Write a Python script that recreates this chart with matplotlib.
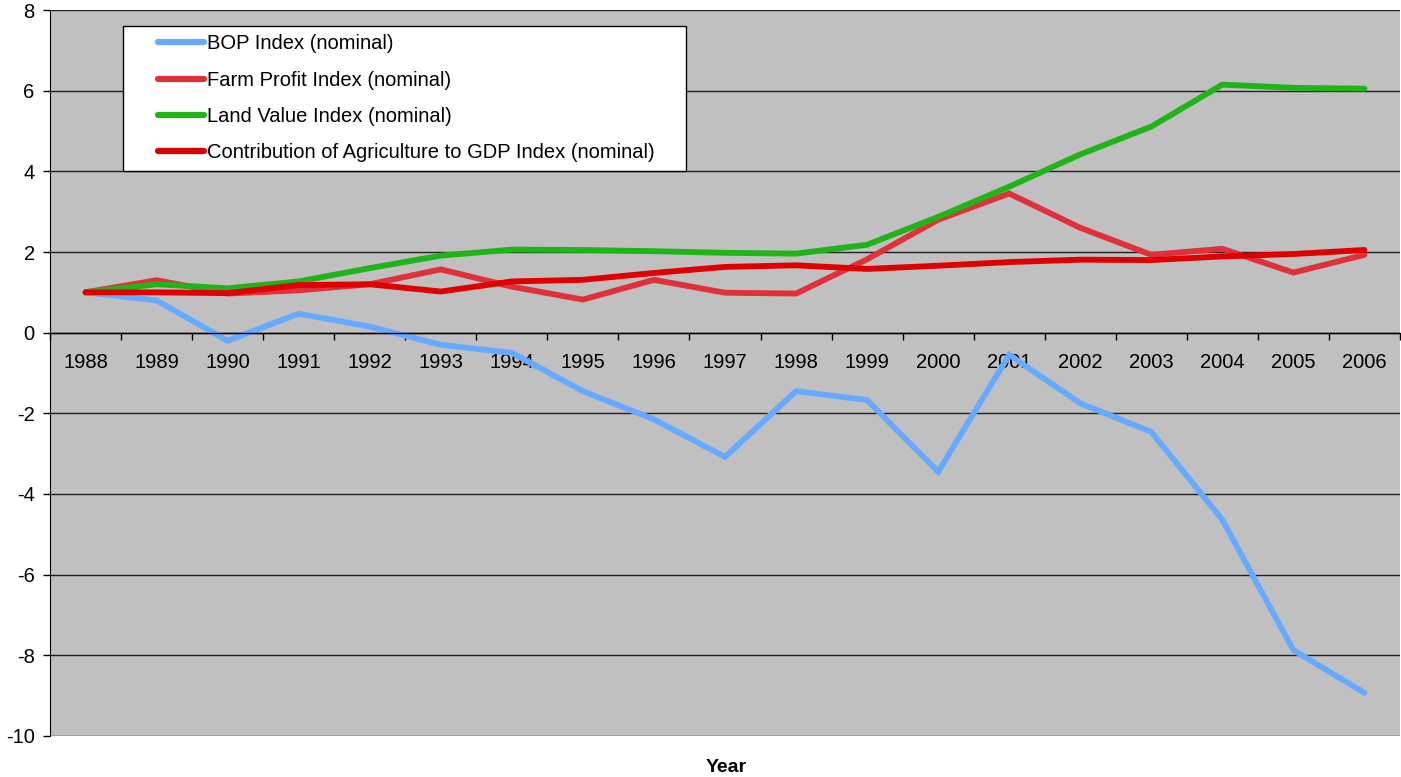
import matplotlib.pyplot as plt
from matplotlib.legend_handler import HandlerLine2D
import numpy as np

plt.rcParams['font.family'] = ['Liberation Sans', 'DejaVu Sans']
plt.rcParams['axes.unicode_minus'] = False

years = [str(y) for y in range(1988, 2007)]

bop = [1.0, 0.8, -0.2, 0.47, 0.15, -0.3, -0.5, -1.45, -2.15, -3.08,
       -1.45, -1.67, -3.45, -0.55, -1.75, -2.46, -4.64, -7.87, -8.93]
farm_profit = [1.0, 1.3, 0.97, 1.05, 1.2, 1.57, 1.14, 0.82, 1.31, 0.99,
               0.97, 1.82, 2.8, 3.45, 2.6, 1.93, 2.08, 1.49, 1.93]
land_value = [1.0, 1.2, 1.1, 1.27, 1.6, 1.91, 2.06, 2.05, 2.02, 1.98,
              1.96, 2.18, 2.87, 3.62, 4.42, 5.11, 6.15, 6.07, 6.05]
agri_gdp = [1.0, 1.0, 0.98, 1.18, 1.2, 1.02, 1.27, 1.31, 1.48, 1.63,
            1.67, 1.58, 1.66, 1.75, 1.81, 1.8, 1.89, 1.95, 2.05]

reeksen = [
    ("BOP Index (nominal)", bop, "#66AAFF"),
    ("Farm Profit Index (nominal)", farm_profit, "#E0303A"),
    ("Land Value Index (nominal)", land_value, "#20B418"),
    ("Contribution of Agriculture to GDP Index (nominal)", agri_gdp, "#E00000"),
]


class RechtsLijn(HandlerLine2D):
    # legendalijn alleen in het rechterdeel van het handle-vak
    def get_xdata(self, legend, xdescent, ydescent, width, height, fontsize):
        return np.array([-xdescent + width * 0.36, -xdescent + width]), None


fig = plt.figure(figsize=(14.01, 7.77), dpi=100)
W, H = 1401, 777
ax = fig.add_axes([50 / W, 1 - 736 / H, 1350 / W, 726 / H])
ax.set_facecolor("#C0C0C0")

x = np.arange(len(years))
for naam, data, kleur in reeksen:
    ax.plot(x, data, color=kleur, lw=4.2, label=naam, solid_capstyle="round",
            solid_joinstyle="miter")

ax.set_xlim(-0.5, len(years) - 0.5)
ax.set_ylim(-10, 8)
ax.set_yticks(range(-10, 9, 2))
ax.yaxis.grid(True, color="#202020", lw=1)
ax.tick_params(axis="y", length=5, width=1, pad=6, labelsize=14.5, direction="out")

# x-as op y = 0, jaartallen onder de as
ax.spines["bottom"].set_position(("data", 0))
ax.spines["bottom"].set_linewidth(1)
ax.spines["top"].set_visible(False)
ax.spines["right"].set_visible(False)
ax.set_xticks(x)
ax.set_xticklabels(years)
ax.set_xticks(np.arange(-0.5, len(years)), minor=True)
ax.tick_params(axis="x", which="major", length=0, pad=15, labelsize=14.5)
ax.tick_params(axis="x", which="minor", length=5, width=1, direction="out")

fig.text(726 / W, 1 - 768 / H, "Year", ha="center", va="center",
         fontsize=14, fontweight="bold")

leg = ax.legend(loc="upper left", bbox_to_anchor=(123 / W, 1 - 26 / H, 563 / W, 0),
                bbox_transform=fig.transFigure, mode="expand", borderaxespad=0,
                fontsize=14.5, frameon=True, fancybox=False, edgecolor="black",
                facecolor="white", framealpha=1,
                handlelength=3.6, handletextpad=0.15, labelspacing=0.86,
                borderpad=0.42, handler_map={plt.Line2D: RechtsLijn()})
leg.get_frame().set_linewidth(1)
for h in leg.get_lines():
    h.set_linewidth(4.5)

fig.savefig("out.png", dpi=100)
